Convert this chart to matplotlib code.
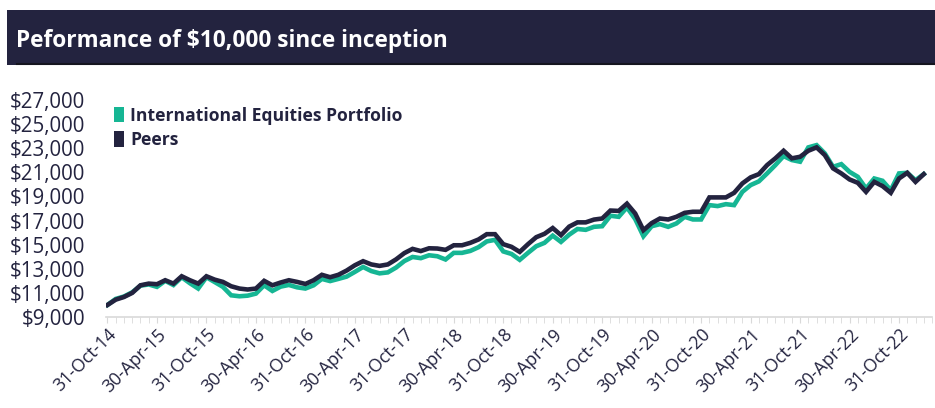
import matplotlib

matplotlib.use("Agg")
import matplotlib.pyplot as plt
import pandas as pd
from matplotlib.patches import Patch, Rectangle
from matplotlib.ticker import FixedLocator, FuncFormatter

NAVY = "#23233f"
GREEN = "#16b694"

# month-end dates from inception
dates = pd.date_range("2014-10-31", periods=100, freq="ME")

portfolio = [
    10000, 10500, 10700, 11050, 11600, 11700, 11500, 12000, 11650, 12300,
    11800, 11360, 12300, 11900, 11500, 10800, 10720, 10770, 10940, 11630,
    11160, 11520, 11660, 11460, 11360, 11630, 12160, 11980, 12160, 12350,
    12740, 13150, 12810, 12620, 12700, 13100, 13640, 13980, 13880, 14120,
    14040, 13770, 14320, 14320, 14480, 14790, 15270, 15400, 14440, 14230,
    13740, 14320, 14870, 15150, 15750, 15230, 15830, 16300, 16230, 16480,
    16530, 17400, 17310, 18090, 17130, 15700, 16530, 16700, 16480, 16760,
    17310, 17090, 17090, 18280, 18200, 18360, 18280, 19380, 19940, 20250,
    20910, 21600, 22350, 22020, 21880, 23070, 23260, 22570, 21460, 21680,
    21040, 20630, 19660, 20490, 20300, 19520, 20910, 20960, 20350, 20850,
]

peers = [
    10000, 10440, 10660, 11000, 11630, 11770, 11720, 12050, 11770, 12380,
    12050, 11770, 12380, 12100, 11910, 11550, 11360, 11280, 11360, 12000,
    11630, 11860, 12050, 11910, 11740, 12050, 12500, 12300, 12500, 12850,
    13290, 13630, 13360, 13240, 13360, 13780, 14300, 14650, 14470, 14700,
    14680, 14570, 14950, 14950, 15150, 15430, 15870, 15870, 15040, 14820,
    14400, 15040, 15620, 15900, 16380, 15790, 16500, 16850, 16850, 17080,
    17170, 17830, 17800, 18400, 17590, 16200, 16790, 17170, 17090, 17310,
    17640, 17730, 17730, 18920, 18920, 18920, 19300, 20080, 20580, 20850,
    21600, 22160, 22790, 22160, 22290, 22790, 23070, 22430, 21330, 20910,
    20410, 20130, 19380, 20210, 19860, 19300, 20490, 20960, 20210, 20850,
]

y_ticks = list(range(9000, 27001, 2000))
title = "Peformance of $10,000 since inception"
series_names = ["International Equities Portfolio", "Peers"]

plt.rcParams["font.family"] = ["Open Sans", "DejaVu Sans"]

fig = plt.figure(figsize=(9.35, 4.08), dpi=100)
W, H = 935, 408

# ------------ Title bar ------------
fig.patches.append(Rectangle((7 / W, 1 - 65 / H), 1 - 7 / W, 55 / H,
                             transform=fig.transFigure, facecolor=NAVY,
                             edgecolor="none", zorder=0))
fig.lines.append(plt.Line2D([17 / W, 1], [1 - 64 / H, 1 - 64 / H],
                            transform=fig.transFigure, color="#15151f", lw=1.5))
fig.text(16 / W, 1 - 41 / H, title, color="white", fontsize=16.3,
         fontweight="bold", va="center", ha="left")

# ------------ Chart ------------
ax = fig.add_axes([106 / W, 1 - 317 / H, (932 - 106) / W, (317 - 100) / H])
x = list(range(len(dates)))
ax.plot(x, portfolio, color=GREEN, lw=3.3, solid_joinstyle="miter", zorder=2)
ax.plot(x, peers, color=NAVY, lw=3.3, solid_joinstyle="miter", zorder=3)

ax.set_ylim(9000, 27000)
ax.set_xlim(-0.18, 99.6)
ax.yaxis.set_major_locator(FixedLocator(y_ticks))
ax.yaxis.set_major_formatter(FuncFormatter(lambda v, p: f"${v:,.0f}"))

label_pos = x[::6]
ax.set_xticks(label_pos)
ax.set_xticklabels([d.strftime("%d-%b-%y") for d in dates[::6]],
                   rotation=45, ha="right", rotation_mode="anchor")
ax.set_xticks(x + [100], minor=True)

for side in ["left", "top", "right"]:
    ax.spines[side].set_visible(False)
ax.spines["bottom"].set_color("#d9d9d9")
ax.spines["bottom"].set_linewidth(1.2)
ax.tick_params(axis="y", length=0, labelsize=14.8, labelcolor=NAVY, pad=15)
ax.tick_params(axis="x", which="both", length=4, color="#d9d9d9",
               labelsize=12.8, labelcolor=NAVY, pad=2)

handles = [Patch(facecolor=GREEN), Patch(facecolor=NAVY)]
leg = ax.legend(handles, series_names, loc="upper left",
                bbox_to_anchor=(-0.009, 1.042), frameon=False,
                handlelength=0.55, handleheight=1.0, handletextpad=0.35,
                labelspacing=0.38, prop={"weight": "bold", "size": 12.6})
for t in leg.get_texts():
    t.set_color(NAVY)

fig.savefig("out.png", dpi=100)
